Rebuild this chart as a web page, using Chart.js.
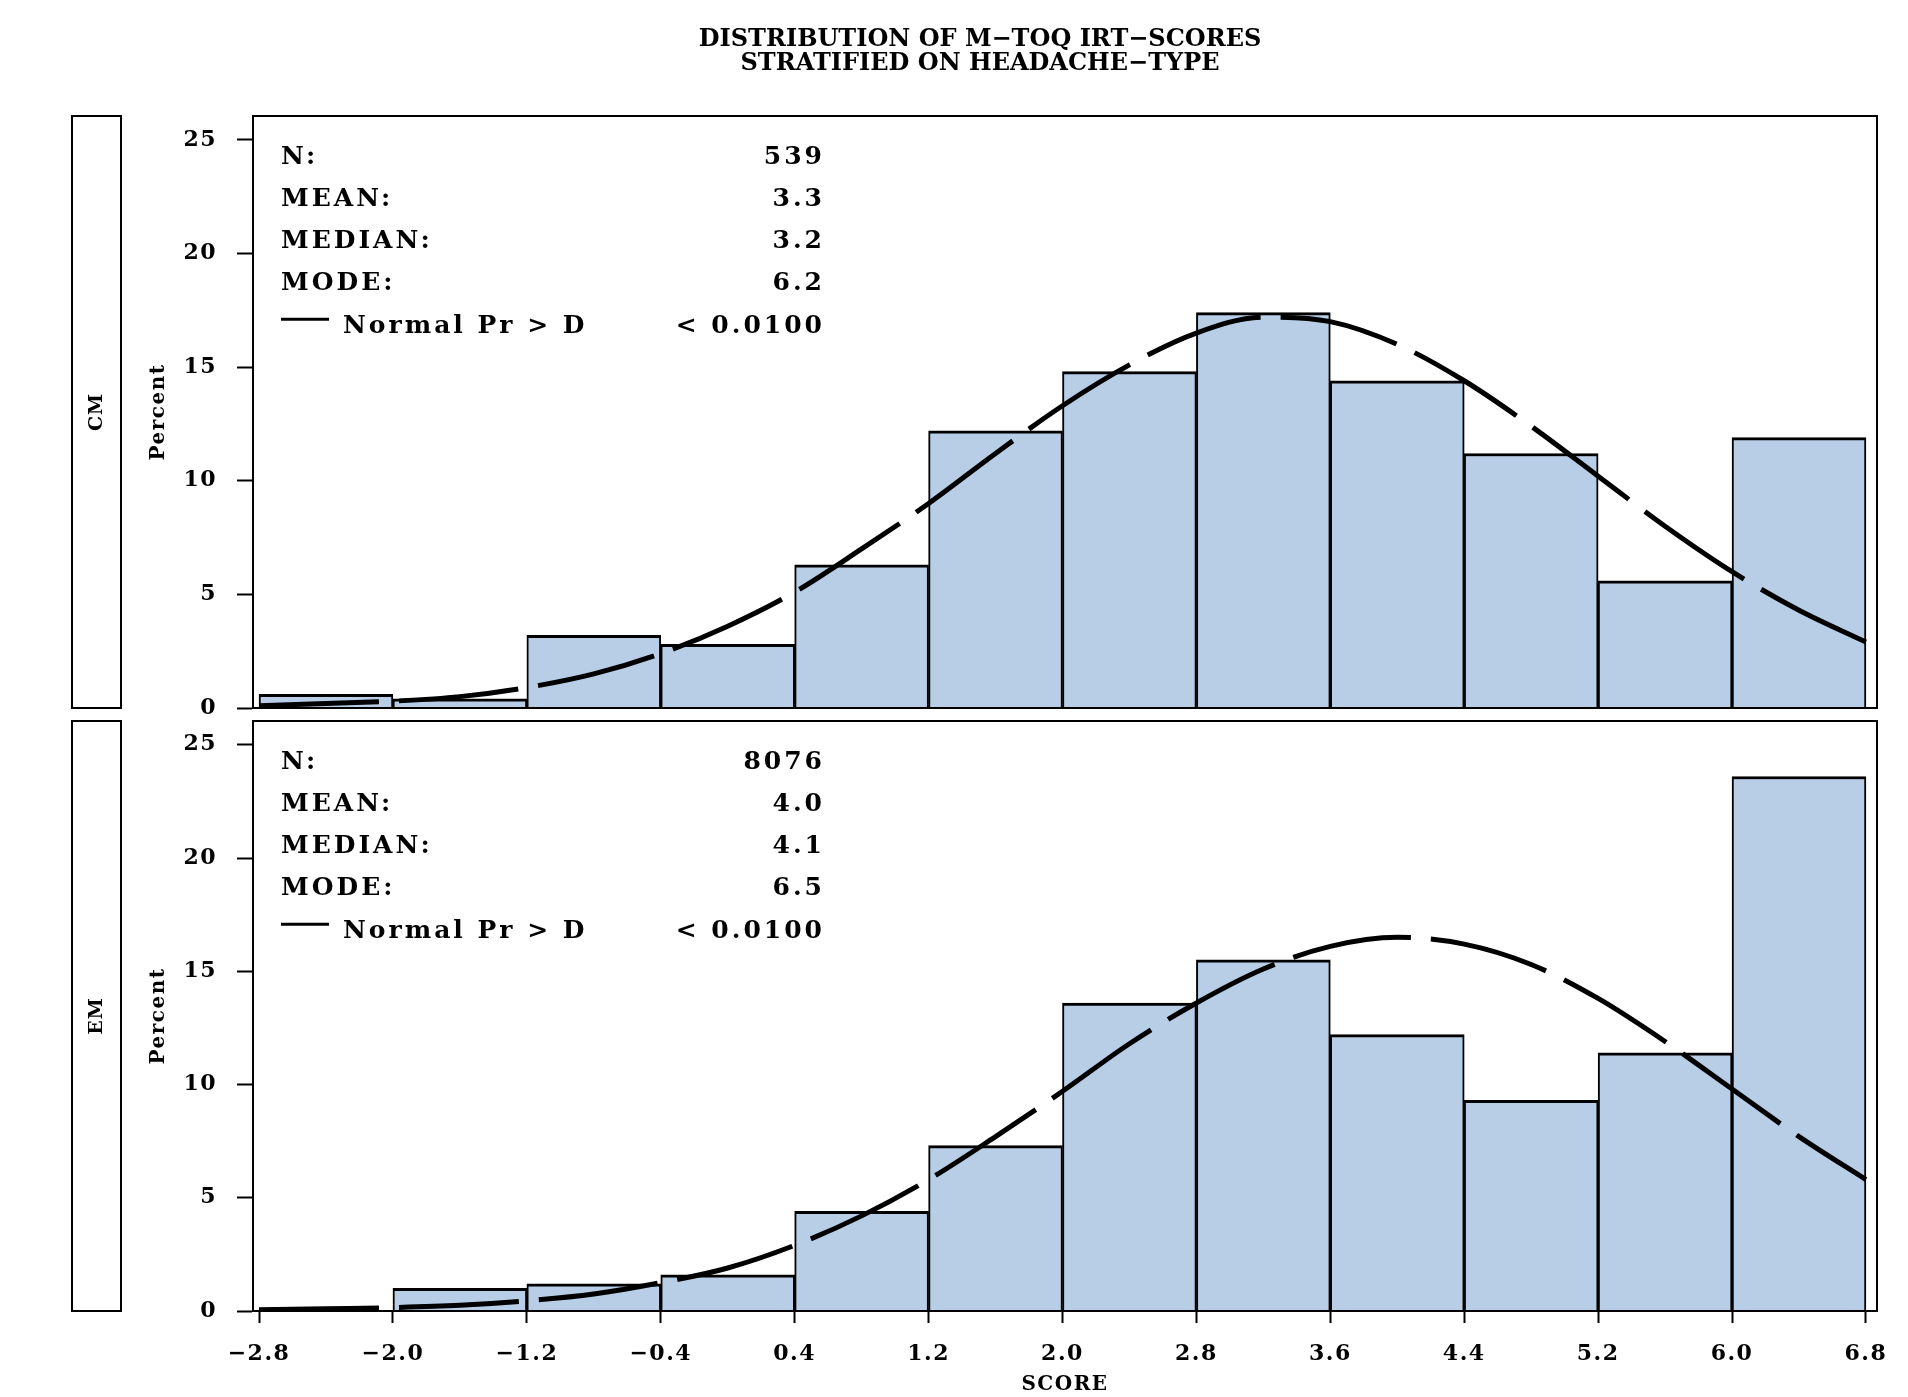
<!DOCTYPE html>
<html>
<head>
<meta charset="utf-8">
<script src="https://cdn.jsdelivr.net/npm/chart.js@4.4.1/dist/chart.umd.min.js"></script>
<style>
  html, body { margin: 0; padding: 0; background: #fff; }
  #wrap { position: relative; width: 1908px; height: 1397px; }
  canvas { position: absolute; left: 0; }
  #cm { top: 0; }
  #em { top: 681px; }
</style>
</head>
<body>
<div id="wrap">
  <canvas id="cm" width="1908" height="760"></canvas>
  <canvas id="em" width="1908" height="716"></canvas>
</div>
<script>
// histogram bins (score) and percent per bin
const binEdges = [-2.8, -2.0, -1.2, -0.4, 0.4, 1.2, 2.0, 2.8, 3.6, 4.4, 5.2, 6.0, 6.8];
const cmPercent = [0.6, 0.4, 3.2, 2.8, 6.3, 12.2, 14.8, 17.4, 14.4, 11.2, 5.6, 11.9];
const emPercent = [0, 1.0, 1.2, 1.6, 4.4, 7.3, 13.6, 15.5, 12.2, 9.3, 11.4, 23.6];

// fitted normal curves
const curveX = [-2.8, -2.4, -2.0, -1.6, -1.2, -0.8, -0.4, 0.0, 0.4, 0.8, 1.2, 1.6, 2.0,
                2.4, 2.8, 3.2, 3.6, 4.0, 4.4, 4.8, 5.2, 5.6, 6.0, 6.4, 6.8];
const cmNormal = [0.1, 0.2, 0.3, 0.5, 0.9, 1.5, 2.4, 3.6, 5.1, 7.0, 9.0, 11.2, 13.3,
                  15.1, 16.5, 17.2, 17.0, 16.0, 14.4, 12.4, 10.2, 8.0, 6.0, 4.3, 2.9];
const emNormal = [0.05, 0.1, 0.15, 0.25, 0.45, 0.75, 1.25, 1.9, 2.9, 4.2, 5.8, 7.7, 9.7,
                  11.8, 13.6, 15.1, 16.1, 16.5, 16.2, 15.3, 13.8, 11.9, 9.8, 7.7, 5.8];

const xTicks = binEdges;
const xTickLabels = ['−2.8', '−2.0', '−1.2', '−0.4', '0.4', '1.2', '2.0', '2.8', '3.6', '4.4', '5.2', '6.0', '6.8'];
const yTicks = [0, 5, 10, 15, 20, 25];

const statNames = ['N:', 'MEAN:', 'MEDIAN:', 'MODE:'];
const cmStats = ['539', '3.3', '3.2', '6.2'];
const emStats = ['8076', '4.0', '4.1', '6.5'];
const normalTest = 'Normal Pr > D';
const cmPValue = '< 0.0100';
const emPValue = '< 0.0100';
const titleLines = ['DISTRIBUTION OF M−TOQ IRT−SCORES', 'STRATIFIED ON HEADACHE−TYPE'];

const FONT = "'DejaVu Serif', serif";
Chart.defaults.font.family = FONT;
Chart.defaults.color = '#000';

// the SAS font is wide, so spread the axis text a little
const spacing = {
  id: 'spacing',
  beforeDraw(chart) { chart.ctx.letterSpacing = '1.5px'; }
};

// frame, strip label and the stats box of a panel
const panelDecor = {
  id: 'panelDecor',
  afterDraw(chart, args, o) {
    const { ctx, chartArea: a } = chart;
    ctx.save();
    ctx.strokeStyle = '#000';
    ctx.lineWidth = 2;
    ctx.strokeRect(a.left, a.top, a.right - a.left, a.bottom - a.top);
    ctx.strokeRect(72, a.top, 49, a.bottom - a.top);

    ctx.fillStyle = '#000';
    ctx.save();
    ctx.translate(97, (a.top + a.bottom) / 2);
    ctx.rotate(-Math.PI / 2);
    ctx.letterSpacing = '1px';
    ctx.font = 'bold 19px ' + FONT;
    ctx.textAlign = 'center';
    ctx.textBaseline = 'middle';
    ctx.fillText(o.strip, 0, 0);
    ctx.restore();

    ctx.font = 'bold 25px ' + FONT;
    ctx.letterSpacing = '3px';
    ctx.textBaseline = 'middle';
    const lx = a.left + 28, rx = a.left + 572;
    statNames.forEach((name, i) => {
      const y = a.top + 41 + i * 42.3;
      ctx.textAlign = 'left';
      ctx.fillText(name, lx, y);
      ctx.textAlign = 'right';
      ctx.fillText(o.stats[i], rx, y);
    });
    const y = a.top + 41 + 4 * 42.3;
    ctx.lineWidth = 3;
    ctx.beginPath();
    ctx.moveTo(lx, y - 7);
    ctx.lineTo(lx + 48, y - 7);
    ctx.stroke();
    ctx.textAlign = 'left';
    ctx.fillText(normalTest, lx + 62, y);
    ctx.textAlign = 'right';
    ctx.fillText(o.pValue, rx, y);
    ctx.restore();
  }
};

const figTitle = {
  id: 'figTitle',
  afterDraw(chart, args, o) {
    if (!o.lines) return;
    const ctx = chart.ctx;
    ctx.save();
    ctx.font = 'bold 24px ' + FONT;
    ctx.letterSpacing = '0px';
    ctx.fillStyle = '#000';
    ctx.textAlign = 'center';
    ctx.textBaseline = 'middle';
    ctx.fillText(o.lines[0], 980, 40);
    ctx.fillText(o.lines[1], 980, 64);
    ctx.restore();
  }
};

function makePanel(id, percents, normal, strip, stats, pValue, cfg) {
  const bars = percents.map((p, i) => ({ x: (binEdges[i] + binEdges[i + 1]) / 2, y: p }));
  const curve = curveX.map((x, i) => ({ x: x, y: normal[i] }));
  const tickFont = { size: 22, weight: 'bold', lineHeight: 1.2 };
  return new Chart(document.getElementById(id), {
    type: 'bar',
    data: {
      datasets: [
        {
          type: 'line',
          data: curve,
          borderColor: '#000',
          borderWidth: 5,
          borderDash: [120, 20],
          pointRadius: 0,
          cubicInterpolationMode: 'monotone',
          fill: false,
          order: 0
        },
        {
          type: 'bar',
          data: bars,
          backgroundColor: '#b8cde6',
          borderColor: '#000',
          borderWidth: { top: 3, left: 2, right: 2, bottom: 0 },
          borderSkipped: false,
          barPercentage: 1,
          categoryPercentage: 1,
          order: 1
        }
      ]
    },
    options: {
      responsive: false,
      animation: false,
      devicePixelRatio: 1,
      layout: { padding: { left: 0, right: 31, top: cfg.top, bottom: 0 } },
      plugins: {
        legend: { display: false },
        tooltip: { enabled: false },
        panelDecor: { strip: strip, stats: stats, pValue: pValue },
        figTitle: { lines: cfg.title }
      },
      scales: {
        x: {
          type: 'linear',
          min: -2.836,
          max: 6.866,
          offset: false,
          grid: { display: cfg.showX, drawOnChartArea: false, offset: false, tickLength: 12, tickColor: '#000', tickWidth: 2 },
          border: { display: false },
          ticks: {
            display: cfg.showX,
            padding: 18,
            maxRotation: 0,
            autoSkip: false,
            font: tickFont,
            callback: (v, i) => xTickLabels[i]
          },
          title: { display: cfg.showX, text: 'SCORE', padding: 0, font: { size: 20, weight: 'bold', lineHeight: 1.2 } },
          afterBuildTicks: s => { s.ticks = xTicks.map(v => ({ value: v })); },
          afterFit: s => { s.height = cfg.xHeight; }
        },
        y: {
          min: 0,
          max: 26.05,
          grid: { drawOnChartArea: false, tickLength: 16, tickColor: '#000', tickWidth: 2 },
          border: { display: true, color: '#000', width: 2 },
          ticks: { padding: 20, font: tickFont, callback: v => String(v) },
          title: { display: true, text: 'Percent', padding: { top: 147, bottom: 0 }, font: { size: 20, weight: 'bold', lineHeight: 1.2 } },
          afterBuildTicks: s => { s.ticks = yTicks.map(v => ({ value: v })); },
          afterFit: s => { s.width = 253; }
        }
      }
    },
    plugins: [spacing, panelDecor, figTitle]
  });
}

makePanel('cm', cmPercent, cmNormal, 'CM', cmStats, cmPValue,
  { top: 116, showX: false, xHeight: 52, title: titleLines });
makePanel('em', emPercent, emNormal, 'EM', emStats, emPValue,
  { top: 40, showX: true, xHeight: 86, title: null });
</script>
</body>
</html>
